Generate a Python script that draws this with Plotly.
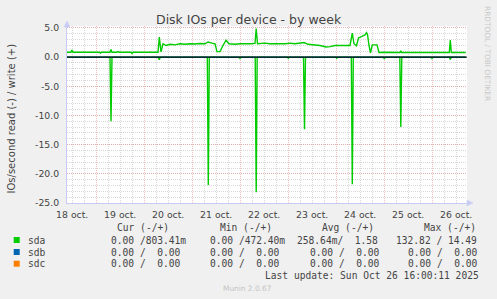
import plotly.graph_objects as go
import pandas as pd

# ---------------- data ----------------
BASE = pd.Timestamp("2025-10-18 00:00")

# sda write IOs/s (hours since 18 Oct 00:00, value)
write_hours = [9.4, 11.4, 11.9, 12.4, 25.65, 26.15, 26.65, 30.9, 31.4, 31.9, 34.4, 34.9, 35.4,
               41.4, 41.9, 42.4, 54.9, 55.55, 56.4, 57.4, 58.9, 60.9, 63.4, 65.9, 68.4, 70.9,
               73.4, 75.9, 78.4, 79.9, 81.9, 83.4, 84.4, 85.9, 87.4, 88.9, 90.4, 93.4, 95.9,
               98.4, 100.9, 103.4, 104.0, 104.65, 108.4, 110.9, 113.4, 115.9, 118.4, 120.9,
               123.4, 125.9, 127.9, 129.9, 133.4, 135.9, 138.9, 140.9, 143.4, 145.9, 148.4,
               150.9, 152.05, 152.9, 154.15, 155.15, 156.4, 157.4, 158.4, 159.15, 159.65,
               160.4, 161.15, 162.05, 164.4, 165.4, 167.9, 175.9, 176.3, 176.75, 182.4, 182.9,
               191.9, 200.55, 201.05, 201.55, 208.75]
write_vals = [0.85, 0.85, 1.2, 0.85, 0.85, 0.7, 0.85, 0.85, 1.3, 0.85, 0.85, 1.0, 0.85,
              0.85, 0.65, 0.85, 0.85, 3.45, 0.9, 2.3, 2.0, 2.2, 2.1, 2.3, 2.2, 2.3,
              2.25, 2.35, 2.3, 2.6, 2.4, 2.3, 0.95, 0.95, 2.0, 2.9, 2.3, 2.2, 2.3,
              2.25, 2.3, 2.35, 4.9, 2.3, 2.4, 2.3, 2.35, 2.3, 2.3, 2.4,
              2.3, 2.4, 2.5, 2.2, 2.1, 2.0, 1.75, 1.8, 2.0, 1.95, 2.0,
              2.0, 4.1, 2.3, 1.95, 3.3, 3.45, 3.65, 3.8, 4.2, 3.9,
              2.0, 0.75, 2.1, 2.1, 0.8, 0.85, 0.8, 1.1, 0.8, 0.8, 0.9,
              0.85, 0.8, 2.95, 0.8, 0.8]

# sda read IOs/s (drawn negative)
read_hours = [9.4,
              30.9, 31.4, 31.9,
              55.05, 55.55, 56.05,
              79.55, 80.05, 80.55,
              95.4, 95.9, 96.4,
              103.5, 104.0, 104.5,
              119.55, 120.05, 120.55,
              127.65, 128.15, 128.65,
              143.75, 144.25, 144.75,
              151.55, 152.05, 152.55,
              167.55, 168.05, 168.55,
              175.8, 176.3, 176.8,
              191.4, 191.9, 192.4,
              200.55, 201.05, 201.55,
              208.75]
read_vals = [0.0,
             0.0, 11.0, 0.0,
             0.0, 0.45, 0.0,
             0.0, 21.9, 0.0,
             0.0, 0.25, 0.0,
             0.0, 23.15, 0.0,
             0.0, 0.2, 0.0,
             0.0, 12.35, 0.0,
             0.0, 0.2, 0.0,
             0.0, 21.8, 0.0,
             0.0, 0.3, 0.0,
             0.0, 11.95, 0.0,
             0.0, 0.25, 0.0,
             0.0, 0.4, 0.0,
             0.0]

# sdb / sdc (all zero)
idle_hours = [9.4, 208.75]
sdb_vals = [0.0, 0.0]
sdc_vals = [0.0, 0.0]

x_tick_times = ["2025-10-18 12:00", "2025-10-19 12:00", "2025-10-20 12:00", "2025-10-21 12:00",
                "2025-10-22 12:00", "2025-10-23 12:00", "2025-10-24 12:00", "2025-10-25 12:00",
                "2025-10-26 12:00"]
x_tick_labels = ["18 oct.", "19 oct.", "20 oct.", "21 oct.", "22 oct.", "23 oct.", "24 oct.",
                 "25 oct.", "26 oct."]
y_tick_vals = [5, 0, -5, -10, -15, -20, -25]
y_tick_labels = ["5.0", "0.0", "-5.0", "-10.0", "-15.0", "-20.0", "-25.0"]

legend_names = ["sda", "sdb", "sdc"]
legend_colors = ["#00CC00", "#0066B3", "#FF8000"]
cur_text = ["0.00 /803.41m", "0.00 /  0.00", "0.00 /  0.00"]
min_text = ["0.00 /472.40m", "0.00 /  0.00", "0.00 /  0.00"]
avg_text = ["258.64m/  1.58", "0.00 /  0.00", "0.00 /  0.00"]
max_text = ["132.82 / 14.49", "0.00 /  0.00", "0.00 /  0.00"]
headers = ["Cur (-/+)", "Min (-/+)", "Avg (-/+)", "Max (-/+)"]
last_update = "Last update: Sun Oct 26 16:00:11 2025"

# ---------------- layout geometry ----------------
W, H = 497, 299
PL, PR, PT, PB = 67, 467, 26, 203
X_START = BASE + pd.Timedelta(hours=9.4)
X_END = BASE + pd.Timedelta(hours=209.4)
Y_RANGE = [-25, 5.34]

def t(hours):
    return [BASE + pd.Timedelta(hours=h) for h in hours]

def px(x, y):
    return (x - PL) / (PR - PL), (PB - y) / (PB - PT)

TXT = "#444444"
GREEN = legend_colors[0]
MAJOR = "rgba(235,140,140,0.55)"
MINOR = "#D8D8D8"
AXIS = "#C8CCF4"
LW = 1.4

fig = go.Figure()
fig.add_trace(go.Scatter(x=t(idle_hours), y=sdb_vals, mode="lines",
                         line=dict(color=legend_colors[1], width=LW), xaxis="x2"))
fig.add_trace(go.Scatter(x=t(idle_hours), y=sdc_vals, mode="lines",
                         line=dict(color=legend_colors[2], width=LW)))
fig.add_trace(go.Scatter(x=t(read_hours), y=[-v for v in read_vals], mode="lines",
                         line=dict(color=GREEN, width=LW)))
fig.add_trace(go.Scatter(x=t(write_hours), y=write_vals, mode="lines",
                         line=dict(color=GREEN, width=LW)))

shapes = []
# zero rule
shapes.append(dict(type="line", xref="paper", yref="y", x0=0, x1=1, y0=0, y1=0,
                   line=dict(color="black", width=1), layer="above"))
# axis arrows
ax, ay = px(PL, PT - 5)
bx, by = px(PL - 3, PT + 1)
cx, cy = px(PL + 3, PT + 1)
shapes.append(dict(type="path", xref="paper", yref="paper",
                   path=f"M {ax},{ay} L {bx},{by} L {cx},{cy} Z",
                   fillcolor=AXIS, line=dict(color=AXIS, width=0.5), layer="above"))
ax, ay = px(PR + 6, PB)
bx, by = px(PR, PB - 3)
cx, cy = px(PR, PB + 3)
shapes.append(dict(type="path", xref="paper", yref="paper",
                   path=f"M {ax},{ay} L {bx},{by} L {cx},{cy} Z",
                   fillcolor=AXIS, line=dict(color=AXIS, width=0.5), layer="above"))
# legend colour boxes
row_y = [240.0, 252.0, 263.7]
for col, yy in zip(legend_colors, row_y):
    x0, y0 = px(13.7, yy + 3)
    x1, y1 = px(19.7, yy - 3)
    shapes.append(dict(type="rect", xref="paper", yref="paper", x0=x0, x1=x1, y0=y0, y1=y1,
                       fillcolor=col, line=dict(width=0)))

ann = []
def text(x, y, s, size, color=TXT, family="DejaVu Sans", xanchor="left", angle=0):
    xx, yy = px(x, y)
    ann.append(dict(x=xx, y=yy, xref="paper", yref="paper", text=s, showarrow=False,
                    xanchor=xanchor, yanchor="middle", textangle=angle, borderpad=0,
                    font=dict(family=family, size=size, color=color)))

MONO = "DejaVu Sans Mono"
MS = 9.6
text(248.7, 19.5, "Disk IOs per device - by week", 12.5, xanchor="center")
text(11.5, 119, "IOs/second read (-) / write (+)", 10, xanchor="center", angle=-90)
text(488, 53, "RRDTOOL / TOBI OETIKER", 7.4, color="#C8C8C8", xanchor="center", angle=90)

for hx, h in zip([116, 219, 321, 423], headers):
    text(hx, 227.3, h, MS, family=MONO)
for i, name in enumerate(legend_names):
    yy = row_y[i]
    text(26.7, yy, name, MS, family=MONO)
    text(110, yy, cur_text[i], MS, family=MONO)
    text(209, yy, min_text[i], MS, family=MONO)
    text(296.3 if i == 0 else 308.7, yy, avg_text[i], MS, family=MONO)
    text(395.3 if i == 0 else 407, yy, max_text[i], MS, family=MONO)
text(372, 275.3, last_update, MS, family=MONO, xanchor="center")
text(247.6, 288.3, "Munin 2.0.67", 7.4, color="#C4C4C4", xanchor="center")

DASH = "1px,1px"
fig.update_layout(
    width=W, height=H, autosize=False,
    margin=dict(l=PL, r=W - PR, t=PT, b=H - PB, pad=0),
    paper_bgcolor="#F0F0F0", plot_bgcolor="white",
    showlegend=False,
    shapes=shapes, annotations=ann,
    xaxis=dict(type="date", range=[X_START, X_END], dtick=86400000, tick0="2025-10-18",
               showticklabels=False, ticks="", showgrid=True, gridcolor=MAJOR, griddash=DASH,
               gridwidth=1, zeroline=False, showline=True, linecolor=AXIS, linewidth=1,
               minor=dict(dtick=6 * 3600000, tick0="2025-10-18", showgrid=True,
                          gridcolor=MINOR, griddash=DASH, gridwidth=1, ticks="")),
    xaxis2=dict(type="date", overlaying="x", matches="x", side="bottom",
                tickmode="array", tickvals=x_tick_times, ticktext=x_tick_labels,
                showgrid=False, zeroline=False, ticks="outside", ticklen=3,
                tickcolor="rgba(0,0,0,0)",
                tickfont=dict(family="DejaVu Sans", size=9.3, color=TXT)),
    yaxis=dict(range=Y_RANGE, tickmode="array", tickvals=y_tick_vals, ticktext=y_tick_labels,
               showgrid=True, gridcolor=MAJOR, griddash=DASH, gridwidth=1,
               zeroline=False, showline=True, linecolor=AXIS, linewidth=1,
               ticks="outside", ticklen=5, tickcolor="rgba(0,0,0,0)",
               tickfont=dict(family="DejaVu Sans", size=9.3, color=TXT),
               minor=dict(dtick=1, tick0=0, showgrid=True, gridcolor=MINOR,
                          griddash=DASH, gridwidth=1, ticks="")),
)

fig.write_html("out.html")
